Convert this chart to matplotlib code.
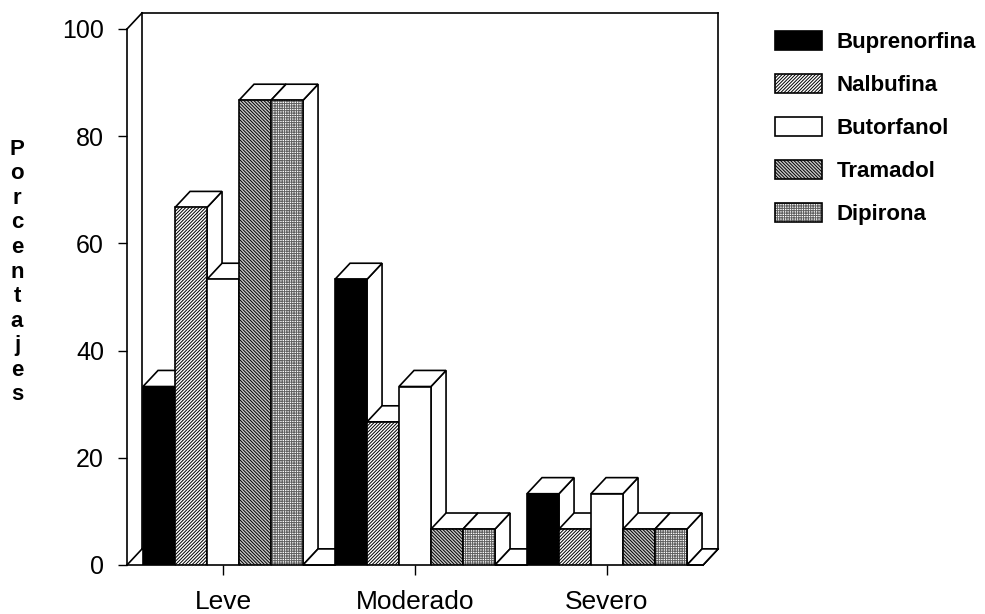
import numpy as np
import matplotlib
matplotlib.use("Agg")
import matplotlib.pyplot as plt
from matplotlib.patches import Rectangle, Polygon

plt.rcParams['font.family'] = ['Liberation Sans', 'DejaVu Sans']
plt.rcParams['hatch.linewidth'] = 0.7

categorias = ['Leve', 'Moderado', 'Severo']
farmacos = ['Buprenorfina', 'Nalbufina', 'Butorfanol', 'Tramadol', 'Dipirona']
buprenorfina = [33.3, 53.3, 13.3]
nalbufina = [66.7, 26.7, 6.7]
butorfanol = [53.3, 33.3, 13.3]
tramadol = [86.7, 6.7, 6.7]
dipirona = [86.7, 6.7, 6.7]

# relleno de cada serie: (color de cara, trama, color de trama)
estilos = [('black', None, 'black'),
           ('white', '/' * 10, 'black'),
           ('white', None, 'black'),
           ('#c8c8c8', '\\' * 10, 'black'),
           ('white', '+' * 7, '#606060')]

# profundidad del efecto 3D en unidades de datos
DX = 0.47
DY = 3.0
XMIN, XMAX = -0.5, 17.5
LW = 1.2


def barra3d(ax, x0, h, face='white', hatch=None, hcolor='black', xmax=None):
    x1 = x0 + 1 if xmax is None else min(x0 + 1, xmax)
    lado = Polygon([(x1, 0), (x1 + DX, DY), (x1 + DX, h + DY), (x1, h)],
                   closed=True, facecolor='white', edgecolor='black',
                   linewidth=LW, zorder=3, clip_on=False)
    tapa = Polygon([(x0, h), (x1, h), (x1 + DX, h + DY), (x0 + DX, h + DY)],
                   closed=True, facecolor='white', edgecolor='black',
                   linewidth=LW, zorder=3, clip_on=False)
    # la trama toma el color del borde, asi que va en un parche aparte
    relleno = Rectangle((x0, 0), x1 - x0, h, facecolor=face, hatch=hatch,
                        edgecolor=hcolor, linewidth=0, zorder=3)
    borde = Rectangle((x0, 0), x1 - x0, h, facecolor='none',
                      edgecolor='black', linewidth=LW, zorder=3)
    for p in (lado, tapa, relleno, borde):
        ax.add_patch(p)
    return relleno


fig = plt.figure(figsize=(9.85, 6.14), dpi=100)
ax = fig.add_axes([127 / 985, 49 / 614, 576 / 985, 536 / 614])
ax.set_xlim(XMIN, XMAX)
ax.set_ylim(0, 100)

# paredes del fondo y lateral
kw = dict(color='black', lw=LW, zorder=1, clip_on=False)
ax.plot([XMIN + DX, XMAX + DX], [100 + DY, 100 + DY], **kw)
ax.plot([XMAX + DX, XMAX + DX], [DY, 100 + DY], **kw)
ax.plot([XMIN + DX, XMIN + DX], [DY, 100 + DY], **kw)
ax.plot([XMIN + DX, XMAX + DX], [DY, DY], **kw)
ax.plot([XMIN, XMIN + DX], [100, 100 + DY], **kw)
ax.plot([XMIN, XMIN + DX], [0, DY], **kw)
ax.plot([XMAX, XMAX + DX], [0, DY], **kw)

series = [buprenorfina, nalbufina, butorfanol, tramadol, dipirona]
for g in range(len(categorias)):
    base = 6 * g
    for i, vals in enumerate(series):
        face, hatch, hcolor = estilos[i]
        barra3d(ax, base + i, vals[g], face, hatch, hcolor)
    # hueco entre grupos: barra de altura cero
    barra3d(ax, base + 5, 0, xmax=XMAX)

# muestras de la leyenda con borde negro
handles = []
for i, nombre in enumerate(farmacos):
    face, hatch, hcolor = estilos[i]
    handles.append((Rectangle((0, 0), 1, 1, facecolor=face, hatch=hatch,
                              edgecolor=hcolor, linewidth=0),
                    Rectangle((0, 0), 1, 1, facecolor='none',
                              edgecolor='black', linewidth=LW)))

for s in ['top', 'right']:
    ax.spines[s].set_visible(False)
ax.spines['left'].set_linewidth(LW)
ax.spines['bottom'].set_linewidth(LW)
ax.spines['left'].set_zorder(4)

ax.set_yticks(np.arange(0, 101, 20))
ax.set_xticks([6 * g + 2.5 for g in range(len(categorias))])
ax.set_xticklabels(categorias)
ax.tick_params(axis='y', length=6.5, width=1, pad=10, labelsize=18)
ax.tick_params(axis='x', length=7, width=1, pad=11, labelsize=19)

fig.text(17 / 985, 1 - 272 / 614, '\n'.join('Porcentajes'), ha='center',
         va='center', multialignment='center', fontsize=16, fontweight='bold',
         linespacing=1.22)

ax.legend(handles=handles, labels=farmacos, loc='upper left',
          bbox_to_anchor=(775 / 985, 1 - 31 / 614),
          bbox_transform=fig.transFigure, frameon=False,
          prop={'size': 16, 'weight': 'bold'},
          handlelength=2.1, handleheight=0.95, handletextpad=0.68,
          labelspacing=0.93, borderpad=0, borderaxespad=0)

fig.savefig('out.png', dpi=100)
